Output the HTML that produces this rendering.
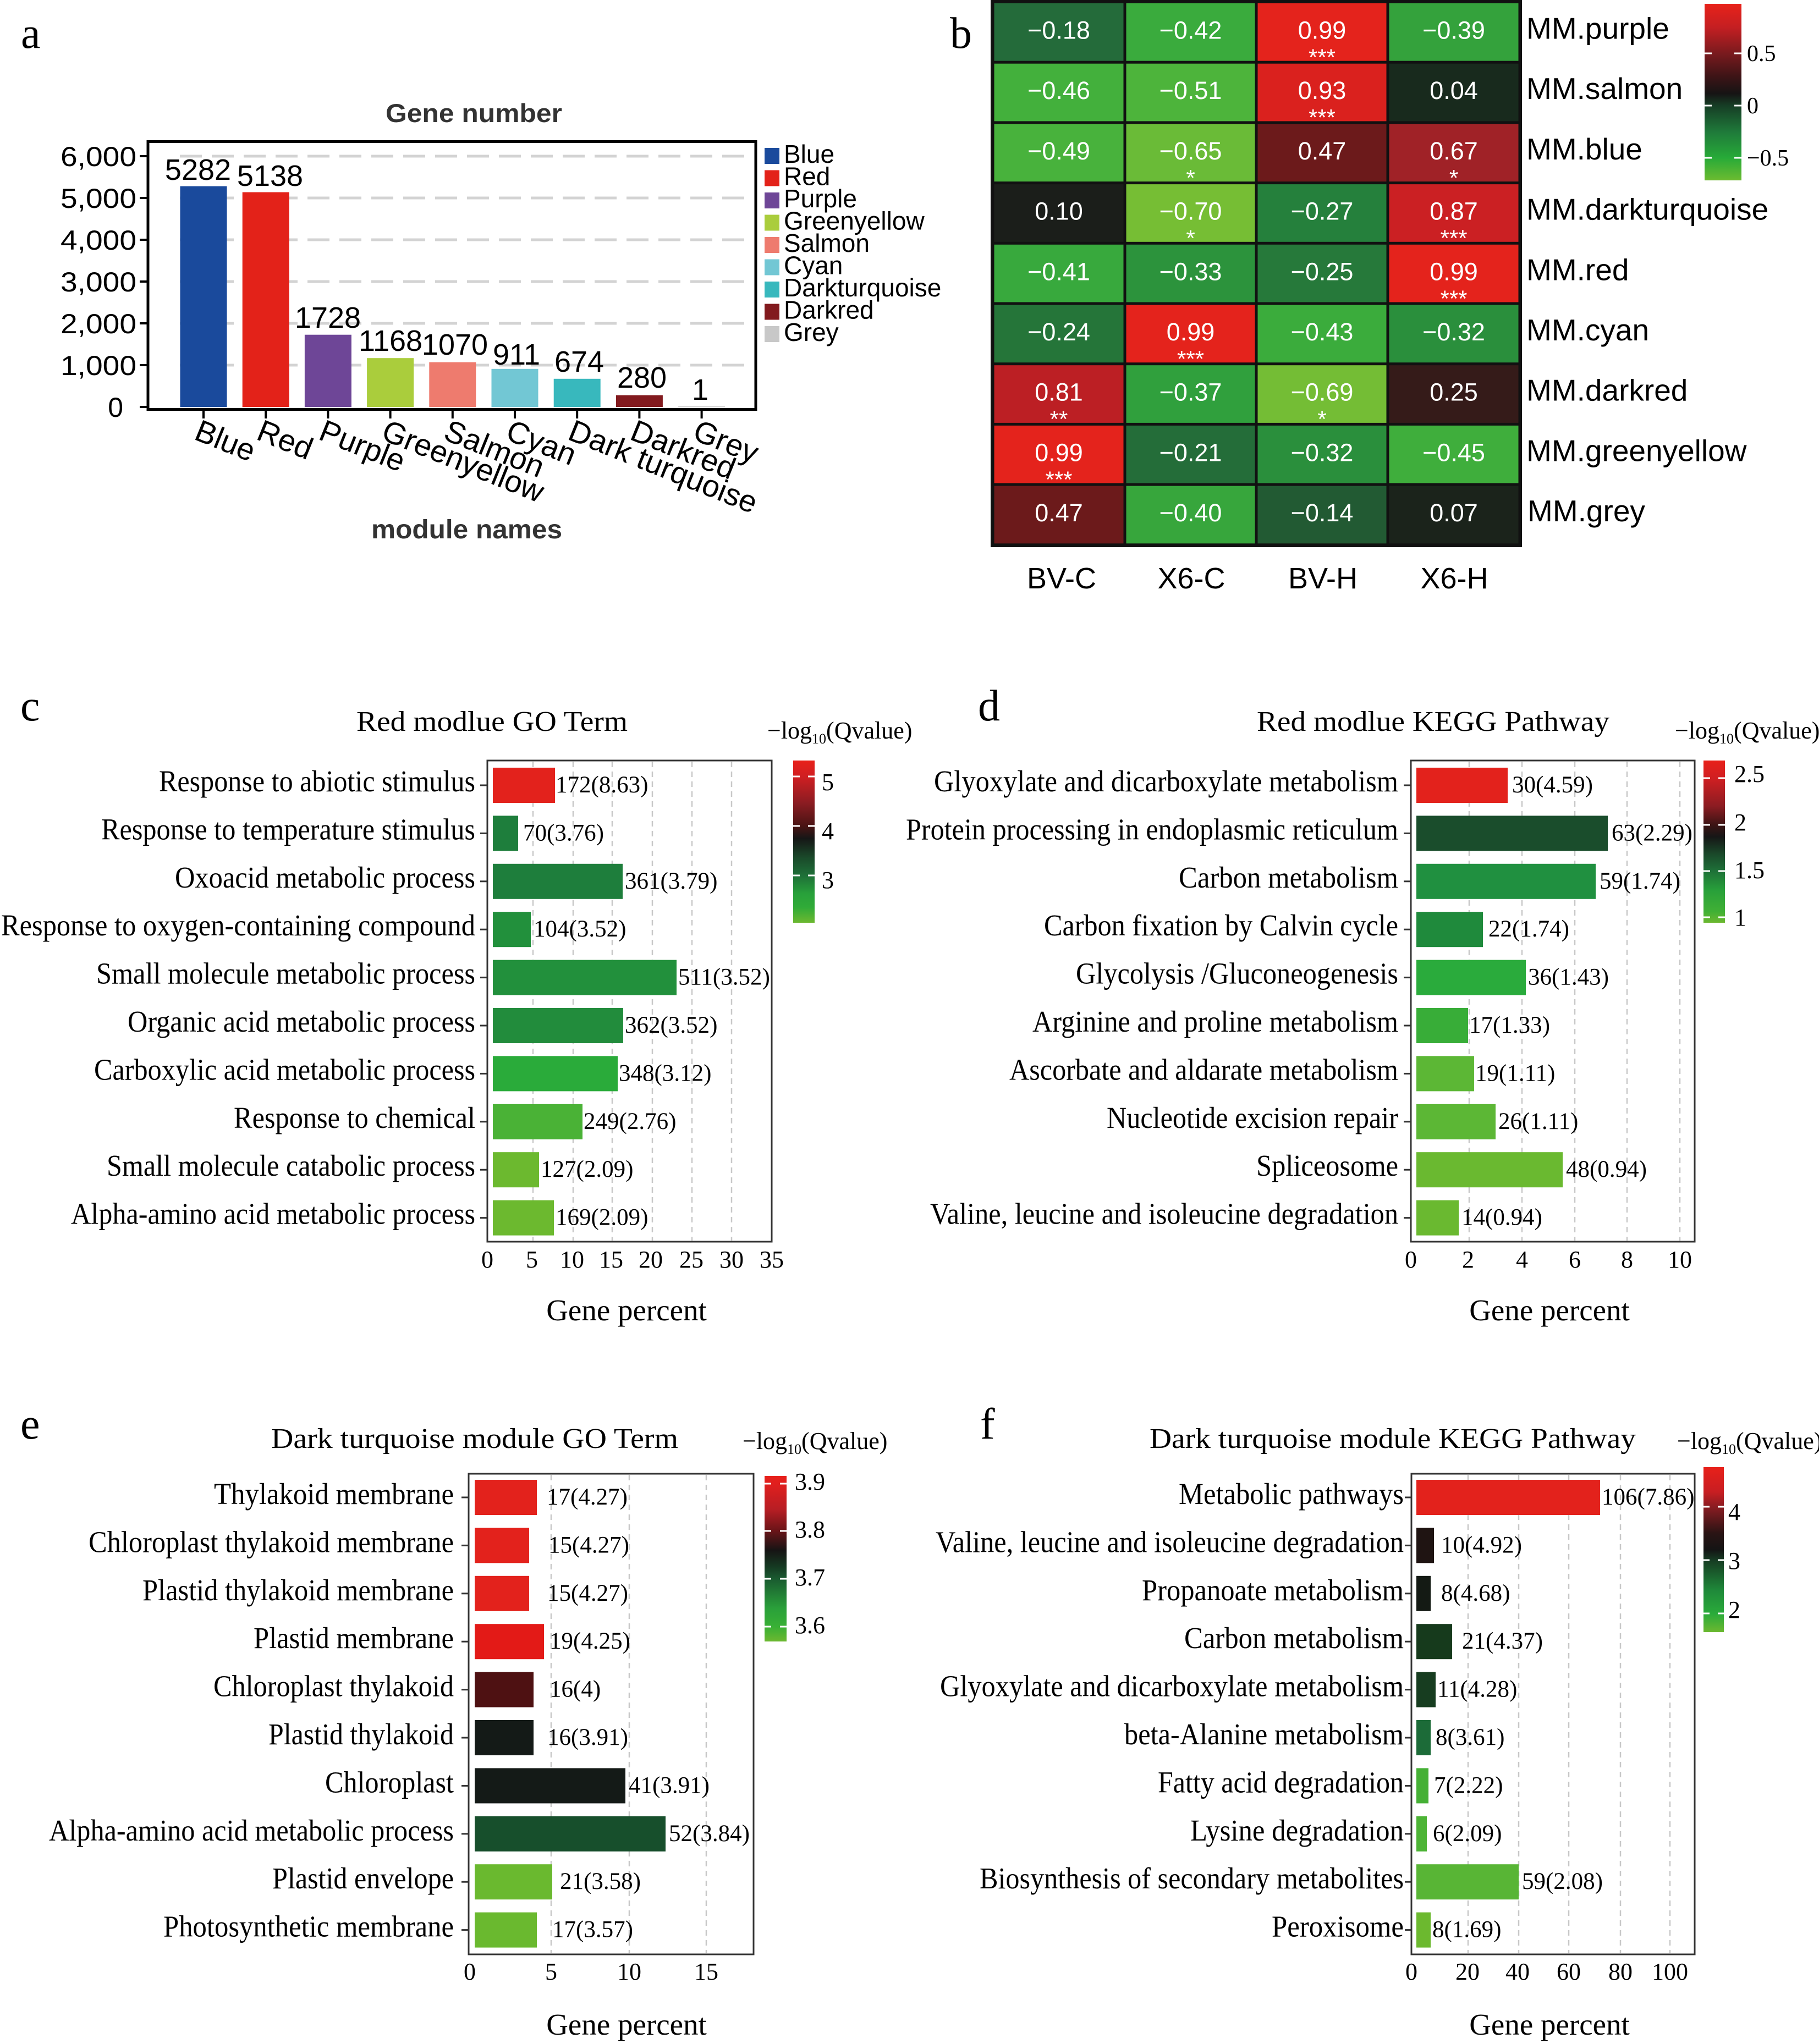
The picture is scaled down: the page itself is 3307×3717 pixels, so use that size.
<!DOCTYPE html>
<html><head><meta charset="utf-8">
<style>
html,body{margin:0;padding:0;background:#fff;}
svg{display:block;}
.s{font-family:"Liberation Sans",Arial,sans-serif;}
.r{font-family:"Liberation Serif","Times New Roman",serif;}
</style></head>
<body>
<svg xmlns="http://www.w3.org/2000/svg" width="3307" height="3717" viewBox="0 0 3307 3717">
<defs>
<linearGradient id="gb" x1="0" y1="0" x2="0" y2="1">
<stop offset="0" stop-color="#e8221a"/><stop offset="0.134" stop-color="#c41f22"/><stop offset="0.28" stop-color="#7a1a1e"/><stop offset="0.414" stop-color="#3c1416"/><stop offset="0.508" stop-color="#161414"/><stop offset="0.576" stop-color="#163d25"/><stop offset="0.726" stop-color="#1f7a3a"/><stop offset="0.872" stop-color="#27aa38"/><stop offset="1" stop-color="#6cbb30"/>
</linearGradient>
<linearGradient id="gc" x1="0" y1="0" x2="0" y2="1">
<stop offset="0" stop-color="#e8201a"/><stop offset="0.098" stop-color="#d01f22"/><stop offset="0.26" stop-color="#8c1c22"/><stop offset="0.403" stop-color="#4a1414"/><stop offset="0.48" stop-color="#161616"/><stop offset="0.6" stop-color="#1a4a2a"/><stop offset="0.71" stop-color="#1e7038"/><stop offset="0.82" stop-color="#28a03a"/><stop offset="0.905" stop-color="#30ab38"/><stop offset="1" stop-color="#6cb830"/>
</linearGradient>
<linearGradient id="gd" x1="0" y1="0" x2="0" y2="1">
<stop offset="0" stop-color="#e8201a"/><stop offset="0.11" stop-color="#d01f22"/><stop offset="0.28" stop-color="#8c1c22"/><stop offset="0.4" stop-color="#3a1414"/><stop offset="0.47" stop-color="#161616"/><stop offset="0.58" stop-color="#1a4a2a"/><stop offset="0.68" stop-color="#1e7038"/><stop offset="0.8" stop-color="#28a03a"/><stop offset="0.93" stop-color="#40b035"/><stop offset="1" stop-color="#6cb830"/>
</linearGradient>
<linearGradient id="ge" x1="0" y1="0" x2="0" y2="1">
<stop offset="0" stop-color="#e8201a"/><stop offset="0.05" stop-color="#e01f1e"/><stop offset="0.2" stop-color="#b81e24"/><stop offset="0.33" stop-color="#6a1418"/><stop offset="0.45" stop-color="#161414"/><stop offset="0.55" stop-color="#153a22"/><stop offset="0.62" stop-color="#1a5a30"/><stop offset="0.8" stop-color="#2aa03a"/><stop offset="0.91" stop-color="#38b035"/><stop offset="1" stop-color="#6cb830"/>
</linearGradient>
<linearGradient id="gf" x1="0" y1="0" x2="0" y2="1">
<stop offset="0" stop-color="#e8201a"/><stop offset="0.15" stop-color="#c81e22"/><stop offset="0.24" stop-color="#8a1c22"/><stop offset="0.4" stop-color="#2a1414"/><stop offset="0.5" stop-color="#141414"/><stop offset="0.56" stop-color="#163a22"/><stop offset="0.75" stop-color="#1f8a3a"/><stop offset="0.89" stop-color="#2aab3a"/><stop offset="1" stop-color="#6cb830"/>
</linearGradient>
</defs>
<rect x="0" y="0" width="3307" height="3717" fill="#fff"/>

<!-- panel letters -->
<g class="r" font-size="80" fill="#000">
<text x="38" y="87">a</text>
<text x="1727" y="87">b</text>
<text x="37" y="1310">c</text>
<text x="1778" y="1310">d</text>
<text x="37" y="2616">e</text>
<text x="1782" y="2616">f</text>
</g>

<!-- ============ PANEL A ============ -->
<text class="s" x="701" y="222" font-size="47" font-weight="bold" fill="#333" textLength="321" lengthAdjust="spacingAndGlyphs">Gene number</text>
<g stroke="#d3d3d3" stroke-width="5" stroke-dasharray="40 18">
<line x1="327" y1="284" x2="1362" y2="284"/>
<line x1="327" y1="360" x2="1362" y2="360"/>
<line x1="327" y1="436" x2="1362" y2="436"/>
<line x1="327" y1="512" x2="1362" y2="512"/>
<line x1="327" y1="588" x2="1362" y2="588"/>
<line x1="327" y1="664" x2="1362" y2="664"/>
</g>
<g>
<rect x="327.5" y="338.6" width="85" height="401.4" fill="#1a4a9c"/>
<rect x="440.7" y="349.5" width="85" height="390.5" fill="#e32219"/>
<rect x="553.9" y="608.7" width="85" height="131.3" fill="#6e4697"/>
<rect x="667.1" y="651.2" width="85" height="88.8" fill="#aacd3c"/>
<rect x="780.3" y="658.7" width="85" height="81.3" fill="#ee7b6e"/>
<rect x="893.5" y="670.8" width="85" height="69.2" fill="#72c7d4"/>
<rect x="1006.7" y="688.8" width="85" height="51.2" fill="#38b8bd"/>
<rect x="1119.9" y="718.7" width="85" height="21.3" fill="#821a1e"/>
<rect x="1233.1" y="738" width="85" height="2" fill="#d8d8d8"/>
</g>
<rect x="269" y="257.5" width="1105" height="487" fill="none" stroke="#000" stroke-width="5"/>
<g stroke="#000" stroke-width="4">
<line x1="254" y1="284" x2="268" y2="284"/>
<line x1="254" y1="360" x2="268" y2="360"/>
<line x1="254" y1="436" x2="268" y2="436"/>
<line x1="254" y1="512" x2="268" y2="512"/>
<line x1="254" y1="588" x2="268" y2="588"/>
<line x1="254" y1="664" x2="268" y2="664"/>
<line x1="254" y1="740" x2="268" y2="740"/>
<line x1="370" y1="747" x2="370" y2="761"/>
<line x1="483.2" y1="747" x2="483.2" y2="761"/>
<line x1="596.4" y1="747" x2="596.4" y2="761"/>
<line x1="709.6" y1="747" x2="709.6" y2="761"/>
<line x1="822.8" y1="747" x2="822.8" y2="761"/>
<line x1="936" y1="747" x2="936" y2="761"/>
<line x1="1049.2" y1="747" x2="1049.2" y2="761"/>
<line x1="1162.4" y1="747" x2="1162.4" y2="761"/>
<line x1="1275.6" y1="747" x2="1275.6" y2="761"/>
</g>
<g class="s" font-size="50" fill="#000" text-anchor="end">
<text x="248" y="302" textLength="138" lengthAdjust="spacingAndGlyphs">6,000</text>
<text x="248" y="378" textLength="138" lengthAdjust="spacingAndGlyphs">5,000</text>
<text x="248" y="454" textLength="138" lengthAdjust="spacingAndGlyphs">4,000</text>
<text x="248" y="530" textLength="138" lengthAdjust="spacingAndGlyphs">3,000</text>
<text x="248" y="606" textLength="138" lengthAdjust="spacingAndGlyphs">2,000</text>
<text x="248" y="682" textLength="138" lengthAdjust="spacingAndGlyphs">1,000</text>
<text x="224" y="758">0</text>
</g>
<g class="s" font-size="54" fill="#000" text-anchor="middle">
<text x="360" y="327">5282</text>
<text x="491" y="338">5138</text>
<text x="596" y="596">1728</text>
<text x="710" y="638">1168</text>
<text x="827" y="645">1070</text>
<text x="939" y="663">911</text>
<text x="1053" y="676">674</text>
<text x="1167" y="705">280</text>
<text x="1273" y="727">1</text>
</g>
<g class="s" font-size="56" fill="#000">
<text transform="translate(366,760) rotate(22)" x="0" y="41">Blue</text>
<text transform="translate(479,760) rotate(22)" x="0" y="41">Red</text>
<text transform="translate(592,760) rotate(22)" x="0" y="41">Purple</text>
<text transform="translate(706,760) rotate(22)" x="0" y="41">Greenyellow</text>
<text transform="translate(819,760) rotate(22)" x="0" y="41">Salmon</text>
<text transform="translate(932,760) rotate(22)" x="0" y="41">Cyan</text>
<text transform="translate(1045,760) rotate(22)" x="0" y="41">Dark turquoise</text>
<text transform="translate(1158,760) rotate(22)" x="0" y="41">Darkred</text>
<text transform="translate(1272,760) rotate(22)" x="0" y="41">Grey</text>
</g>
<text class="s" x="675" y="979" font-size="48" font-weight="bold" fill="#333" textLength="347" lengthAdjust="spacingAndGlyphs">module names</text>
<!-- legend -->
<g>
<rect x="1390" y="269" width="27" height="29" fill="#1a4a9c"/>
<rect x="1390" y="309.5" width="27" height="29" fill="#e32219"/>
<rect x="1390" y="350" width="27" height="29" fill="#6e4697"/>
<rect x="1390" y="390.5" width="27" height="29" fill="#aacd3c"/>
<rect x="1390" y="431" width="27" height="29" fill="#ee7b6e"/>
<rect x="1390" y="471.5" width="27" height="29" fill="#72c7d4"/>
<rect x="1390" y="512" width="27" height="29" fill="#38b8bd"/>
<rect x="1390" y="552.5" width="27" height="29" fill="#821a1e"/>
<rect x="1390" y="593" width="27" height="29" fill="#c8c8c8"/>
</g>
<g class="s" font-size="46" fill="#000">
<text x="1425" y="296">Blue</text>
<text x="1425" y="336.5">Red</text>
<text x="1425" y="377">Purple</text>
<text x="1425" y="417.5">Greenyellow</text>
<text x="1425" y="458">Salmon</text>
<text x="1425" y="498.5">Cyan</text>
<text x="1425" y="539">Darkturquoise</text>
<text x="1425" y="579.5">Darkred</text>
<text x="1425" y="620">Grey</text>
</g>

<!-- ============ PANEL B ============ -->
<rect x="1801" y="0" width="966" height="995" fill="#111"/>
<g>
<rect x="1807.5" y="6" width="235" height="104.7" fill="#246b3a"/>
<rect x="2047.5" y="6" width="234" height="104.7" fill="#3aab3d"/>
<rect x="2286.5" y="6" width="234" height="104.7" fill="#e4231c"/>
<rect x="2525.5" y="6" width="235" height="104.7" fill="#34a23c"/>
<rect x="1807.5" y="115.7" width="235" height="104.7" fill="#43b03c"/>
<rect x="2047.5" y="115.7" width="234" height="104.7" fill="#4db43b"/>
<rect x="2286.5" y="115.7" width="234" height="104.7" fill="#da211e"/>
<rect x="2525.5" y="115.7" width="235" height="104.7" fill="#182a1d"/>
<rect x="1807.5" y="225.4" width="235" height="104.7" fill="#48b23c"/>
<rect x="2047.5" y="225.4" width="234" height="104.7" fill="#6abb37"/>
<rect x="2286.5" y="225.4" width="234" height="104.7" fill="#6c1a1b"/>
<rect x="2525.5" y="225.4" width="235" height="104.7" fill="#a02227"/>
<rect x="1807.5" y="335.1" width="235" height="104.7" fill="#1b1e1a"/>
<rect x="2047.5" y="335.1" width="234" height="104.7" fill="#76be34"/>
<rect x="2286.5" y="335.1" width="234" height="104.7" fill="#25803c"/>
<rect x="2525.5" y="335.1" width="235" height="104.7" fill="#cb2023"/>
<rect x="1807.5" y="444.8" width="235" height="104.7" fill="#38a93d"/>
<rect x="2047.5" y="444.8" width="234" height="104.7" fill="#2c933c"/>
<rect x="2286.5" y="444.8" width="234" height="104.7" fill="#26793a"/>
<rect x="2525.5" y="444.8" width="235" height="104.7" fill="#e4231c"/>
<rect x="1807.5" y="554.5" width="235" height="104.7" fill="#257539"/>
<rect x="2047.5" y="554.5" width="234" height="104.7" fill="#e4231c"/>
<rect x="2286.5" y="554.5" width="234" height="104.7" fill="#3bac3c"/>
<rect x="2525.5" y="554.5" width="235" height="104.7" fill="#2a8f3c"/>
<rect x="1807.5" y="664.2" width="235" height="104.7" fill="#bc1f24"/>
<rect x="2047.5" y="664.2" width="234" height="104.7" fill="#30a03d"/>
<rect x="2286.5" y="664.2" width="234" height="104.7" fill="#74bd35"/>
<rect x="2525.5" y="664.2" width="235" height="104.7" fill="#351b19"/>
<rect x="1807.5" y="773.9" width="235" height="104.7" fill="#e4231c"/>
<rect x="2047.5" y="773.9" width="234" height="104.7" fill="#246d39"/>
<rect x="2286.5" y="773.9" width="234" height="104.7" fill="#2a8f3c"/>
<rect x="2525.5" y="773.9" width="235" height="104.7" fill="#3fae3c"/>
<rect x="1807.5" y="883.6" width="235" height="104.7" fill="#6c1a1b"/>
<rect x="2047.5" y="883.6" width="234" height="104.7" fill="#37a63c"/>
<rect x="2286.5" y="883.6" width="234" height="104.7" fill="#225a33"/>
<rect x="2525.5" y="883.6" width="235" height="104.7" fill="#1b231b"/>
</g>
<g class="s" font-size="45" fill="#fff" text-anchor="middle">
<text x="1925" y="70.5">−0.18</text><text x="2164.5" y="70.5">−0.42</text><text x="2403.5" y="70.5">0.99</text><text x="2643" y="70.5">−0.39</text>
<text x="1925" y="180.2">−0.46</text><text x="2164.5" y="180.2">−0.51</text><text x="2403.5" y="180.2">0.93</text><text x="2643" y="180.2">0.04</text>
<text x="1925" y="289.9">−0.49</text><text x="2164.5" y="289.9">−0.65</text><text x="2403.5" y="289.9">0.47</text><text x="2643" y="289.9">0.67</text>
<text x="1925" y="399.6">0.10</text><text x="2164.5" y="399.6">−0.70</text><text x="2403.5" y="399.6">−0.27</text><text x="2643" y="399.6">0.87</text>
<text x="1925" y="509.3">−0.41</text><text x="2164.5" y="509.3">−0.33</text><text x="2403.5" y="509.3">−0.25</text><text x="2643" y="509.3">0.99</text>
<text x="1925" y="619">−0.24</text><text x="2164.5" y="619">0.99</text><text x="2403.5" y="619">−0.43</text><text x="2643" y="619">−0.32</text>
<text x="1925" y="728.7">0.81</text><text x="2164.5" y="728.7">−0.37</text><text x="2403.5" y="728.7">−0.69</text><text x="2643" y="728.7">0.25</text>
<text x="1925" y="838.4">0.99</text><text x="2164.5" y="838.4">−0.21</text><text x="2403.5" y="838.4">−0.32</text><text x="2643" y="838.4">−0.45</text>
<text x="1925" y="948.1">0.47</text><text x="2164.5" y="948.1">−0.40</text><text x="2403.5" y="948.1">−0.14</text><text x="2643" y="948.1">0.07</text>
</g>
<g class="s" font-size="42" fill="#fff" text-anchor="middle">
<text x="2403.5" y="118.5">***</text>
<text x="2403.5" y="228.2">***</text>
<text x="2164.5" y="337.9">*</text><text x="2643" y="337.9">*</text>
<text x="2164.5" y="447.6">*</text><text x="2643" y="447.6">***</text>
<text x="2643" y="557.3">***</text>
<text x="2164.5" y="667">***</text>
<text x="1925" y="776.7">**</text><text x="2403.5" y="776.7">*</text>
<text x="1925" y="886.4">***</text>
</g>
<g class="s" font-size="55" fill="#000">
<text x="2775" y="70.5">MM.purple</text>
<text x="2775" y="180.2">MM.salmon</text>
<text x="2775" y="289.9">MM.blue</text>
<text x="2775" y="399.6">MM.darkturquoise</text>
<text x="2775" y="509.3">MM.red</text>
<text x="2775" y="619">MM.cyan</text>
<text x="2775" y="728.7">MM.darkred</text>
<text x="2775" y="838.4">MM.greenyellow</text>
<text x="2777" y="948.1">MM.grey</text>
</g>
<g class="s" font-size="54" fill="#000" text-anchor="middle">
<text x="1930" y="1070">BV-C</text>
<text x="2166" y="1070">X6-C</text>
<text x="2405" y="1070">BV-H</text>
<text x="2644" y="1070">X6-H</text>
</g>
<rect x="3099" y="7" width="67" height="321" fill="url(#gb)"/>
<g stroke="#fff" stroke-width="3">
<line x1="3099" y1="97" x2="3112" y2="97"/><line x1="3153" y1="97" x2="3166" y2="97"/>
<line x1="3099" y1="192" x2="3112" y2="192"/><line x1="3153" y1="192" x2="3166" y2="192"/>
<line x1="3099" y1="287" x2="3112" y2="287"/><line x1="3153" y1="287" x2="3166" y2="287"/>
</g>
<g class="r" font-size="42" fill="#000">
<text x="3176" y="111">0.5</text>
<text x="3176" y="206">0</text>
<text x="3176" y="301">−0.5</text>
</g>

<!-- ============ PANEL C ============ -->
<text class="r" x="648" y="1329" font-size="52" fill="#000" textLength="493" lengthAdjust="spacingAndGlyphs">Red modlue GO Term</text>
<text class="r" x="1395" y="1343" font-size="44" fill="#000">−log<tspan font-size="26" dy="9">10</tspan><tspan dy="-9">(Qvalue)</tspan></text>
<g stroke="#c8c8c8" stroke-width="2.5" stroke-dasharray="10 8">
<line x1="969" y1="1385" x2="969" y2="2256"/>
<line x1="1042" y1="1385" x2="1042" y2="2256"/>
<line x1="1113" y1="1385" x2="1113" y2="2256"/>
<line x1="1186" y1="1385" x2="1186" y2="2256"/>
<line x1="1258" y1="1385" x2="1258" y2="2256"/>
<line x1="1330" y1="1385" x2="1330" y2="2256"/>
</g>
<g>
<rect x="896" y="1396" width="113" height="64" fill="#e3221c"/>
<rect x="896" y="1483.4" width="46" height="64" fill="#1e7e3c"/>
<rect x="896" y="1570.8" width="236" height="64" fill="#1e7e3c"/>
<rect x="896" y="1658.2" width="69" height="64" fill="#22903c"/>
<rect x="896" y="1745.6" width="334" height="64" fill="#22903c"/>
<rect x="896" y="1833" width="237" height="64" fill="#228c3c"/>
<rect x="896" y="1920.4" width="227" height="64" fill="#2aab3a"/>
<rect x="896" y="2007.8" width="163" height="64" fill="#4ab236"/>
<rect x="896" y="2095.2" width="84" height="64" fill="#6cb92f"/>
<rect x="896" y="2182.6" width="111" height="64" fill="#6cb92f"/>
</g>
<rect x="886" y="1383" width="517" height="875" fill="none" stroke="#333" stroke-width="3"/>
<g stroke="#333" stroke-width="3">
<line x1="873" y1="1428" x2="885" y2="1428"/>
<line x1="873" y1="1515.4" x2="885" y2="1515.4"/>
<line x1="873" y1="1602.8" x2="885" y2="1602.8"/>
<line x1="873" y1="1690.2" x2="885" y2="1690.2"/>
<line x1="873" y1="1777.6" x2="885" y2="1777.6"/>
<line x1="873" y1="1865" x2="885" y2="1865"/>
<line x1="873" y1="1952.4" x2="885" y2="1952.4"/>
<line x1="873" y1="2039.8" x2="885" y2="2039.8"/>
<line x1="873" y1="2127.2" x2="885" y2="2127.2"/>
<line x1="873" y1="2214.6" x2="885" y2="2214.6"/>
</g>
<g class="r" font-size="55" fill="#000" text-anchor="end">
<text x="864" y="1439" textLength="575" lengthAdjust="spacingAndGlyphs">Response to abiotic stimulus</text>
<text x="864" y="1526.4" textLength="680" lengthAdjust="spacingAndGlyphs">Response to temperature stimulus</text>
<text x="864" y="1613.8" textLength="546" lengthAdjust="spacingAndGlyphs">Oxoacid metabolic process</text>
<text x="864" y="1701.2" textLength="862" lengthAdjust="spacingAndGlyphs">Response to oxygen-containing compound</text>
<text x="864" y="1788.6" textLength="689" lengthAdjust="spacingAndGlyphs">Small molecule metabolic process</text>
<text x="864" y="1876" textLength="632" lengthAdjust="spacingAndGlyphs">Organic acid metabolic process</text>
<text x="864" y="1963.4" textLength="693" lengthAdjust="spacingAndGlyphs">Carboxylic acid metabolic process</text>
<text x="864" y="2050.8" textLength="439" lengthAdjust="spacingAndGlyphs">Response to chemical</text>
<text x="864" y="2138.2" textLength="670" lengthAdjust="spacingAndGlyphs">Small molecule catabolic process</text>
<text x="864" y="2225.6" textLength="735" lengthAdjust="spacingAndGlyphs">Alpha-amino acid metabolic process</text>
</g>
<g class="r" font-size="43" fill="#000">
<text x="1010" y="1441">172(8.63)</text>
<text x="951" y="1528.4">70(3.76)</text>
<text x="1136" y="1615.8">361(3.79)</text>
<text x="970" y="1703.2">104(3.52)</text>
<text x="1233" y="1790.6">511(3.52)</text>
<text x="1136" y="1878">362(3.52)</text>
<text x="1125" y="1965.4">348(3.12)</text>
<text x="1061" y="2052.8">249(2.76)</text>
<text x="983" y="2140.2">127(2.09)</text>
<text x="1010" y="2227.6">169(2.09)</text>
</g>
<g class="r" font-size="44" fill="#000" text-anchor="middle">
<text x="886" y="2305">0</text>
<text x="967" y="2305">5</text>
<text x="1040" y="2305">10</text>
<text x="1111" y="2305">15</text>
<text x="1183" y="2305">20</text>
<text x="1257" y="2305">25</text>
<text x="1330" y="2305">30</text>
<text x="1403" y="2305">35</text>
</g>
<text class="r" x="1139" y="2401" font-size="55" fill="#000" text-anchor="middle">Gene percent</text>
<rect x="1442" y="1383" width="39" height="295" fill="url(#gc)"/>
<g stroke="#fff" stroke-width="3">
<line x1="1442" y1="1412" x2="1454" y2="1412"/><line x1="1469" y1="1412" x2="1481" y2="1412"/>
<line x1="1442" y1="1502" x2="1454" y2="1502"/><line x1="1469" y1="1502" x2="1481" y2="1502"/>
<line x1="1442" y1="1592" x2="1454" y2="1592"/><line x1="1469" y1="1592" x2="1481" y2="1592"/>
</g>
<g class="r" font-size="44" fill="#000">
<text x="1494" y="1437">5</text>
<text x="1494" y="1526">4</text>
<text x="1494" y="1615">3</text>
</g>

<!-- ============ PANEL D ============ -->
<text class="r" x="2285" y="1329" font-size="52" fill="#000" textLength="641" lengthAdjust="spacingAndGlyphs">Red modlue KEGG Pathway</text>
<text class="r" x="3045" y="1343" font-size="44" fill="#000">−log<tspan font-size="26" dy="9">10</tspan><tspan dy="-9">(Qvalue)</tspan></text>
<g stroke="#c8c8c8" stroke-width="2.5" stroke-dasharray="10 8">
<line x1="2671" y1="1385" x2="2671" y2="2256"/>
<line x1="2767" y1="1385" x2="2767" y2="2256"/>
<line x1="2863" y1="1385" x2="2863" y2="2256"/>
<line x1="2958" y1="1385" x2="2958" y2="2256"/>
<line x1="3054" y1="1385" x2="3054" y2="2256"/>
</g>
<g>
<rect x="2575" y="1396" width="166" height="64" fill="#e3221c"/>
<rect x="2575" y="1483.4" width="348" height="64" fill="#1a4d2c"/>
<rect x="2575" y="1570.8" width="326" height="64" fill="#209040"/>
<rect x="2575" y="1658.2" width="121" height="64" fill="#1f8a3c"/>
<rect x="2575" y="1745.6" width="199" height="64" fill="#2aab3c"/>
<rect x="2575" y="1833" width="94" height="64" fill="#38ad38"/>
<rect x="2575" y="1920.4" width="105" height="64" fill="#5cb735"/>
<rect x="2575" y="2007.8" width="144" height="64" fill="#5cb735"/>
<rect x="2575" y="2095.2" width="266" height="64" fill="#6ab930"/>
<rect x="2575" y="2182.6" width="77" height="64" fill="#6ab930"/>
</g>
<rect x="2565" y="1383" width="516" height="875" fill="none" stroke="#333" stroke-width="3"/>
<g stroke="#333" stroke-width="3">
<line x1="2552" y1="1428" x2="2564" y2="1428"/>
<line x1="2552" y1="1515.4" x2="2564" y2="1515.4"/>
<line x1="2552" y1="1602.8" x2="2564" y2="1602.8"/>
<line x1="2552" y1="1690.2" x2="2564" y2="1690.2"/>
<line x1="2552" y1="1777.6" x2="2564" y2="1777.6"/>
<line x1="2552" y1="1865" x2="2564" y2="1865"/>
<line x1="2552" y1="1952.4" x2="2564" y2="1952.4"/>
<line x1="2552" y1="2039.8" x2="2564" y2="2039.8"/>
<line x1="2552" y1="2127.2" x2="2564" y2="2127.2"/>
<line x1="2552" y1="2214.6" x2="2564" y2="2214.6"/>
</g>
<g class="r" font-size="55" fill="#000" text-anchor="end">
<text x="2542" y="1439" textLength="844" lengthAdjust="spacingAndGlyphs">Glyoxylate and dicarboxylate metabolism</text>
<text x="2542" y="1526.4" textLength="895" lengthAdjust="spacingAndGlyphs">Protein processing in endoplasmic reticulum</text>
<text x="2542" y="1613.8" textLength="399" lengthAdjust="spacingAndGlyphs">Carbon metabolism</text>
<text x="2542" y="1701.2" textLength="644" lengthAdjust="spacingAndGlyphs">Carbon fixation by Calvin cycle</text>
<text x="2542" y="1788.6" textLength="586" lengthAdjust="spacingAndGlyphs">Glycolysis /Gluconeogenesis</text>
<text x="2542" y="1876" textLength="665" lengthAdjust="spacingAndGlyphs">Arginine and proline metabolism</text>
<text x="2542" y="1963.4" textLength="707" lengthAdjust="spacingAndGlyphs">Ascorbate and aldarate metabolism</text>
<text x="2542" y="2050.8" textLength="530" lengthAdjust="spacingAndGlyphs">Nucleotide excision repair</text>
<text x="2542" y="2138.2" textLength="258" lengthAdjust="spacingAndGlyphs">Spliceosome</text>
<text x="2542" y="2225.6" textLength="851" lengthAdjust="spacingAndGlyphs">Valine, leucine and isoleucine degradation</text>
</g>
<g class="r" font-size="43" fill="#000">
<text x="2749" y="1441">30(4.59)</text>
<text x="2930" y="1528.4">63(2.29)</text>
<text x="2908" y="1615.8">59(1.74)</text>
<text x="2706" y="1703.2">22(1.74)</text>
<text x="2778" y="1790.6">36(1.43)</text>
<text x="2671" y="1878">17(1.33)</text>
<text x="2682" y="1965.4">19(1.11)</text>
<text x="2724" y="2052.8">26(1.11)</text>
<text x="2847" y="2140.2">48(0.94)</text>
<text x="2657" y="2227.6">14(0.94)</text>
</g>
<g class="r" font-size="44" fill="#000" text-anchor="middle">
<text x="2565" y="2305">0</text>
<text x="2669" y="2305">2</text>
<text x="2767" y="2305">4</text>
<text x="2863" y="2305">6</text>
<text x="2958" y="2305">8</text>
<text x="3054" y="2305">10</text>
</g>
<text class="r" x="2817" y="2401" font-size="55" fill="#000" text-anchor="middle">Gene percent</text>
<rect x="3097" y="1383" width="39" height="295" fill="url(#gd)"/>
<g stroke="#fff" stroke-width="3">
<line x1="3097" y1="1415" x2="3109" y2="1415"/><line x1="3124" y1="1415" x2="3136" y2="1415"/>
<line x1="3097" y1="1500" x2="3109" y2="1500"/><line x1="3124" y1="1500" x2="3136" y2="1500"/>
<line x1="3097" y1="1584" x2="3109" y2="1584"/><line x1="3124" y1="1584" x2="3136" y2="1584"/>
<line x1="3097" y1="1668" x2="3109" y2="1668"/><line x1="3124" y1="1668" x2="3136" y2="1668"/>
</g>
<g class="r" font-size="44" fill="#000">
<text x="3153" y="1422">2.5</text>
<text x="3153" y="1510">2</text>
<text x="3153" y="1597">1.5</text>
<text x="3153" y="1683">1</text>
</g>

<!-- ============ PANEL E ============ -->
<text class="r" x="493" y="2633" font-size="52" fill="#000" textLength="740" lengthAdjust="spacingAndGlyphs">Dark turquoise module GO Term</text>
<text class="r" x="1350" y="2635" font-size="44" fill="#000">−log<tspan font-size="26" dy="9">10</tspan><tspan dy="-9">(Qvalue)</tspan></text>
<g stroke="#c8c8c8" stroke-width="2.5" stroke-dasharray="10 8">
<line x1="1002" y1="2682" x2="1002" y2="3552"/>
<line x1="1144" y1="2682" x2="1144" y2="3552"/>
<line x1="1284" y1="2682" x2="1284" y2="3552"/>
</g>
<g>
<rect x="863" y="2691" width="113" height="64" fill="#e3221c"/>
<rect x="863" y="2778.4" width="99" height="64" fill="#e3221c"/>
<rect x="863" y="2865.8" width="99" height="64" fill="#e3221c"/>
<rect x="863" y="2953.2" width="126" height="64" fill="#e31a17"/>
<rect x="863" y="3040.6" width="107" height="64" fill="#4e1112"/>
<rect x="863" y="3128" width="107" height="64" fill="#141a17"/>
<rect x="863" y="3215.4" width="274" height="64" fill="#141a17"/>
<rect x="863" y="3302.8" width="347" height="64" fill="#174f2c"/>
<rect x="863" y="3390.2" width="141" height="64" fill="#6ab92f"/>
<rect x="863" y="3477.6" width="113" height="64" fill="#6ab92f"/>
</g>
<rect x="852" y="2680" width="518" height="874" fill="none" stroke="#333" stroke-width="3"/>
<g stroke="#333" stroke-width="3">
<line x1="839" y1="2723" x2="851" y2="2723"/>
<line x1="839" y1="2810.4" x2="851" y2="2810.4"/>
<line x1="839" y1="2897.8" x2="851" y2="2897.8"/>
<line x1="839" y1="2985.2" x2="851" y2="2985.2"/>
<line x1="839" y1="3072.6" x2="851" y2="3072.6"/>
<line x1="839" y1="3160" x2="851" y2="3160"/>
<line x1="839" y1="3247.4" x2="851" y2="3247.4"/>
<line x1="839" y1="3334.8" x2="851" y2="3334.8"/>
<line x1="839" y1="3422.2" x2="851" y2="3422.2"/>
<line x1="839" y1="3509.6" x2="851" y2="3509.6"/>
</g>
<g class="r" font-size="55" fill="#000" text-anchor="end">
<text x="825" y="2735" textLength="436" lengthAdjust="spacingAndGlyphs">Thylakoid membrane</text>
<text x="825" y="2822.4" textLength="664" lengthAdjust="spacingAndGlyphs">Chloroplast thylakoid membrane</text>
<text x="825" y="2909.8" textLength="566" lengthAdjust="spacingAndGlyphs">Plastid thylakoid membrane</text>
<text x="825" y="2997.2" textLength="364" lengthAdjust="spacingAndGlyphs">Plastid membrane</text>
<text x="825" y="3084.6" textLength="437" lengthAdjust="spacingAndGlyphs">Chloroplast thylakoid</text>
<text x="825" y="3172" textLength="337" lengthAdjust="spacingAndGlyphs">Plastid thylakoid</text>
<text x="825" y="3259.4" textLength="234" lengthAdjust="spacingAndGlyphs">Chloroplast</text>
<text x="825" y="3346.8" textLength="736" lengthAdjust="spacingAndGlyphs">Alpha-amino acid metabolic process</text>
<text x="825" y="3434.2" textLength="330" lengthAdjust="spacingAndGlyphs">Plastid envelope</text>
<text x="825" y="3521.6" textLength="528" lengthAdjust="spacingAndGlyphs">Photosynthetic membrane</text>
</g>
<g class="r" font-size="43" fill="#000">
<text x="994" y="2736">17(4.27)</text>
<text x="997" y="2823.4">15(4.27)</text>
<text x="995" y="2910.8">15(4.27)</text>
<text x="999" y="2998.2">19(4.25)</text>
<text x="999" y="3085.6">16(4)</text>
<text x="995" y="3173">16(3.91)</text>
<text x="1143" y="3260.4">41(3.91)</text>
<text x="1216" y="3347.8">52(3.84)</text>
<text x="1018" y="3435.2">21(3.58)</text>
<text x="1004" y="3522.6">17(3.57)</text>
</g>
<g class="r" font-size="44" fill="#000" text-anchor="middle">
<text x="854" y="3600">0</text>
<text x="1002" y="3600">5</text>
<text x="1144" y="3600">10</text>
<text x="1284" y="3600">15</text>
</g>
<text class="r" x="1139" y="3700" font-size="55" fill="#000" text-anchor="middle">Gene percent</text>
<rect x="1390" y="2684" width="40" height="301" fill="url(#ge)"/>
<g stroke="#fff" stroke-width="3">
<line x1="1390" y1="2698" x2="1402" y2="2698"/><line x1="1418" y1="2698" x2="1430" y2="2698"/>
<line x1="1390" y1="2784" x2="1402" y2="2784"/><line x1="1418" y1="2784" x2="1430" y2="2784"/>
<line x1="1390" y1="2871" x2="1402" y2="2871"/><line x1="1418" y1="2871" x2="1430" y2="2871"/>
<line x1="1390" y1="2958" x2="1402" y2="2958"/><line x1="1418" y1="2958" x2="1430" y2="2958"/>
</g>
<g class="r" font-size="44" fill="#000">
<text x="1445" y="2709">3.9</text>
<text x="1445" y="2796">3.8</text>
<text x="1445" y="2883">3.7</text>
<text x="1445" y="2970">3.6</text>
</g>

<!-- ============ PANEL F ============ -->
<text class="r" x="2090" y="2633" font-size="52" fill="#000" textLength="884" lengthAdjust="spacingAndGlyphs">Dark turquoise module KEGG Pathway</text>
<text class="r" x="3049" y="2635" font-size="44" fill="#000">−log<tspan font-size="26" dy="9">10</tspan><tspan dy="-9">(Qvalue)</tspan></text>
<g stroke="#c8c8c8" stroke-width="2.5" stroke-dasharray="10 8">
<line x1="2669" y1="2682" x2="2669" y2="3552"/>
<line x1="2761" y1="2682" x2="2761" y2="3552"/>
<line x1="2852" y1="2682" x2="2852" y2="3552"/>
<line x1="2946" y1="2682" x2="2946" y2="3552"/>
<line x1="3036" y1="2682" x2="3036" y2="3552"/>
</g>
<g>
<rect x="2575" y="2691" width="334" height="64" fill="#e3221c"/>
<rect x="2575" y="2778.4" width="32" height="64" fill="#1f1412"/>
<rect x="2575" y="2865.8" width="26" height="64" fill="#141a14"/>
<rect x="2575" y="2953.2" width="65" height="64" fill="#163a1c"/>
<rect x="2575" y="3040.6" width="35" height="64" fill="#173d20"/>
<rect x="2575" y="3128" width="26" height="64" fill="#1c6b38"/>
<rect x="2575" y="3215.4" width="22" height="64" fill="#45b035"/>
<rect x="2575" y="3302.8" width="19" height="64" fill="#4db436"/>
<rect x="2575" y="3390.2" width="186" height="64" fill="#58b535"/>
<rect x="2575" y="3477.6" width="26" height="64" fill="#6cb92f"/>
</g>
<rect x="2566" y="2680" width="515" height="874" fill="none" stroke="#333" stroke-width="3"/>
<g stroke="#333" stroke-width="3">
<line x1="2554" y1="2723" x2="2565" y2="2723"/>
<line x1="2554" y1="2810.4" x2="2565" y2="2810.4"/>
<line x1="2554" y1="2897.8" x2="2565" y2="2897.8"/>
<line x1="2554" y1="2985.2" x2="2565" y2="2985.2"/>
<line x1="2554" y1="3072.6" x2="2565" y2="3072.6"/>
<line x1="2554" y1="3160" x2="2565" y2="3160"/>
<line x1="2554" y1="3247.4" x2="2565" y2="3247.4"/>
<line x1="2554" y1="3334.8" x2="2565" y2="3334.8"/>
<line x1="2554" y1="3422.2" x2="2565" y2="3422.2"/>
<line x1="2554" y1="3509.6" x2="2565" y2="3509.6"/>
</g>
<g class="r" font-size="55" fill="#000" text-anchor="end">
<text x="2552" y="2735" textLength="409" lengthAdjust="spacingAndGlyphs">Metabolic pathways</text>
<text x="2552" y="2822.4" textLength="851" lengthAdjust="spacingAndGlyphs">Valine, leucine and isoleucine degradation</text>
<text x="2552" y="2909.8" textLength="476" lengthAdjust="spacingAndGlyphs">Propanoate metabolism</text>
<text x="2552" y="2997.2" textLength="399" lengthAdjust="spacingAndGlyphs">Carbon metabolism</text>
<text x="2552" y="3084.6" textLength="843" lengthAdjust="spacingAndGlyphs">Glyoxylate and dicarboxylate metabolism</text>
<text x="2552" y="3172" textLength="508" lengthAdjust="spacingAndGlyphs">beta-Alanine metabolism</text>
<text x="2552" y="3259.4" textLength="447" lengthAdjust="spacingAndGlyphs">Fatty acid degradation</text>
<text x="2552" y="3346.8" textLength="388" lengthAdjust="spacingAndGlyphs">Lysine degradation</text>
<text x="2552" y="3434.2" textLength="771" lengthAdjust="spacingAndGlyphs">Biosynthesis of secondary metabolites</text>
<text x="2552" y="3521.6" textLength="240" lengthAdjust="spacingAndGlyphs">Peroxisome</text>
</g>
<g class="r" font-size="43" fill="#000">
<text x="2912" y="2736">106(7.86)</text>
<text x="2620" y="2823.4">10(4.92)</text>
<text x="2620" y="2910.8">8(4.68)</text>
<text x="2658" y="2998.2">21(4.37)</text>
<text x="2613" y="3085.6">11(4.28)</text>
<text x="2610" y="3173">8(3.61)</text>
<text x="2607" y="3260.4">7(2.22)</text>
<text x="2605" y="3347.8">6(2.09)</text>
<text x="2767" y="3435.2">59(2.08)</text>
<text x="2604" y="3522.6">8(1.69)</text>
</g>
<g class="r" font-size="44" fill="#000" text-anchor="middle">
<text x="2566" y="3600">0</text>
<text x="2668" y="3600">20</text>
<text x="2759" y="3600">40</text>
<text x="2852" y="3600">60</text>
<text x="2946" y="3600">80</text>
<text x="3036" y="3600">100</text>
</g>
<text class="r" x="2817" y="3700" font-size="55" fill="#000" text-anchor="middle">Gene percent</text>
<rect x="3097" y="2668" width="37" height="300" fill="url(#gf)"/>
<g stroke="#fff" stroke-width="3">
<line x1="3097" y1="2740" x2="3108" y2="2740"/><line x1="3123" y1="2740" x2="3134" y2="2740"/>
<line x1="3097" y1="2837" x2="3108" y2="2837"/><line x1="3123" y1="2837" x2="3134" y2="2837"/>
<line x1="3097" y1="2934" x2="3108" y2="2934"/><line x1="3123" y1="2934" x2="3134" y2="2934"/>
</g>
<g class="r" font-size="44" fill="#000">
<text x="3142" y="2764">4</text>
<text x="3142" y="2853">3</text>
<text x="3142" y="2942">2</text>
</g>
</svg>
</body></html>
